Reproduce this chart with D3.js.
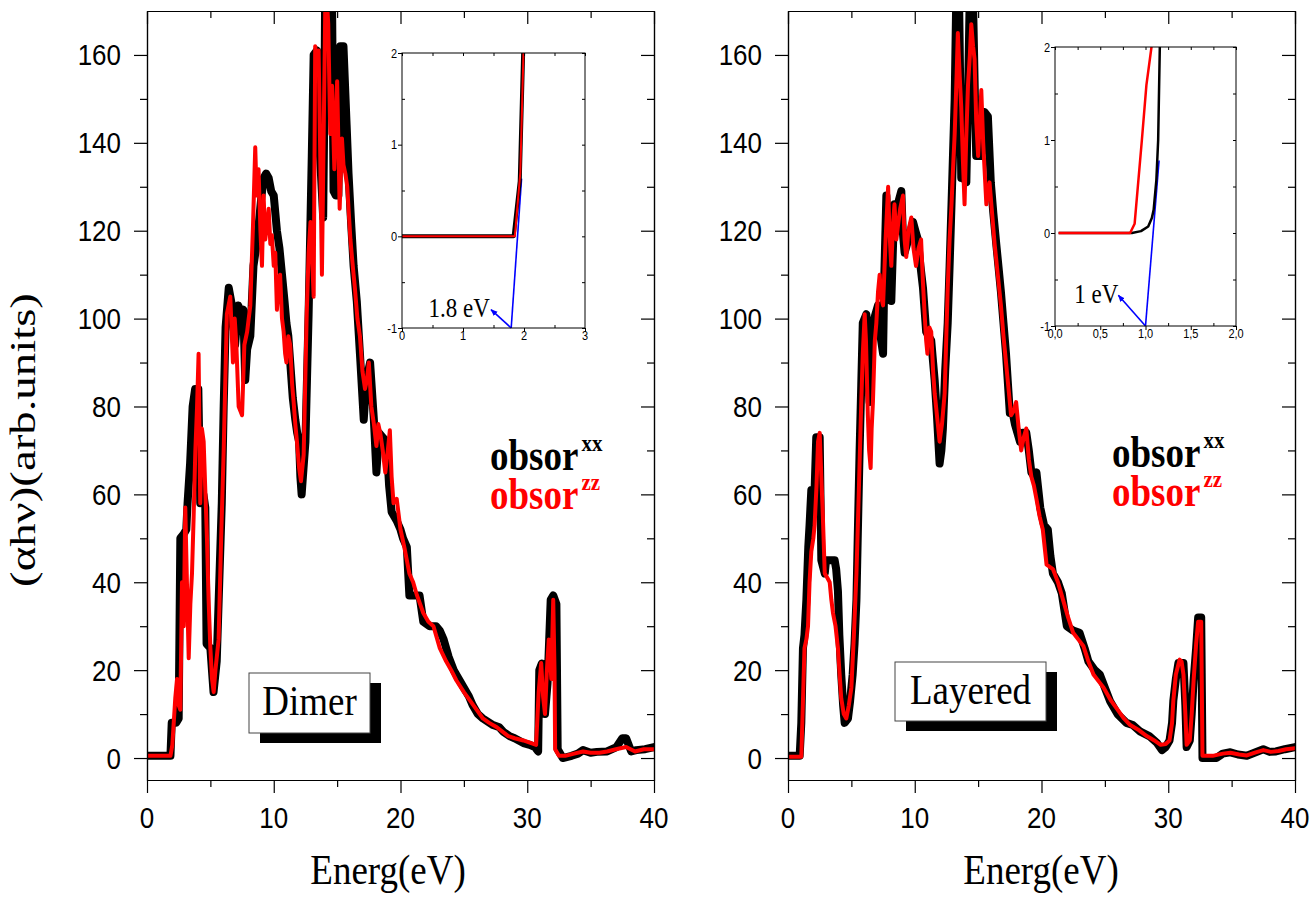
<!DOCTYPE html>
<html><head><meta charset="utf-8">
<script src="https://cdn.jsdelivr.net/npm/d3@7"></script>
<style>body{margin:0;background:#fff}svg{display:block}</style>
</head><body>
<svg id="c" width="1313" height="899"></svg>
<script>
// ---------------- DATA ----------------
const xTicksMajor = [0, 10, 20, 30, 40];
const xTicksMinor = [5, 15, 25, 35];
const yTicksMajor = [0, 20, 40, 60, 80, 100, 120, 140, 160];
const yTicksMinor = [10, 30, 50, 70, 90, 110, 130, 150];
const seriesNames = ["obsor", "obsor"];
const seriesSup = ["xx", "zz"];
const panelLabels = ["Dimer", "Layered"];
const xTitle = "Energ(eV)";
const yTitle = "(\u03b1h\u03bd)(arb.units)";

const dimerXX = [[0,0.5],[1.85,0.5],[1.95,8],[2.3,8],[2.5,9],[2.63,50],[2.9,51],[3.1,52],[3.2,58],[3.4,67],[3.6,80],[3.8,84],[4.05,84],[4.2,58],[4.45,60],[4.6,57],[4.7,26],[5.0,25],[5.25,15],[5.5,22],[5.7,40],[5.9,58],[6.05,80],[6.2,98],[6.45,107],[6.7,103],[6.95,94],[7.2,103],[7.4,101],[7.6,102],[7.75,86],[7.9,93],[8.15,96],[8.4,112],[8.6,116],[8.8,121],[9.0,127],[9.2,132],[9.4,133],[9.6,132],[9.8,129],[10.0,128],[10.25,120],[10.45,116],[10.65,110],[10.85,104],[11.0,99],[11.15,96],[11.3,90],[11.5,82],[11.7,77],[11.85,74],[12.0,72],[12.1,64],[12.2,60],[12.35,66],[12.5,72],[12.75,101],[13.0,137],[13.15,160],[13.4,161],[13.55,145],[13.65,137],[13.9,123],[14.0,150],[14.05,172],[14.6,172],[14.72,129],[14.9,128],[15.1,128],[15.25,162],[15.5,162],[15.75,144],[15.9,133],[16.1,122],[16.3,112],[16.55,104],[16.8,92],[17.1,77],[17.3,86],[17.6,90],[17.9,77],[18.1,65],[18.3,74],[18.6,73],[18.9,72],[19.1,62],[19.3,56],[19.7,54],[20.0,52],[20.2,50],[20.5,48],[20.7,37],[21.5,37],[21.8,31],[22.3,30],[22.8,30],[23.1,29],[23.4,27],[23.8,23],[24.2,20],[24.6,18],[25.0,16],[25.4,14],[25.7,12],[26.1,10],[26.5,9],[27.3,7.5],[27.8,7],[28.1,6],[28.6,5],[29.0,4.5],[29.7,3.4],[30.2,3],[30.6,2.5],[30.86,1.5],[30.95,20],[31.15,21.5],[31.3,14],[31.4,10],[31.6,17],[31.85,36],[32.05,37],[32.3,35],[32.4,2],[32.8,0],[33.5,0.5],[34.0,1],[34.4,1.8],[35.0,1.2],[35.5,1.4],[36.3,1.5],[37.04,2.5],[37.5,4.5],[37.8,4.5],[38.2,1.5],[38.6,1.8],[39.3,2],[40,2.5]];

const dimerZZ = [[0,0.5],[1.85,0.5],[2.0,3],[2.23,13.6],[2.37,18],[2.5,12],[2.63,11],[2.76,40],[2.9,30],[3.02,57],[3.15,40],[3.29,22.7],[3.42,35],[3.55,42],[3.68,55],[3.81,69.6],[3.95,80],[4.07,92],[4.2,58],[4.33,75],[4.47,72],[4.6,61],[4.73,50],[4.86,36],[5.0,25],[5.13,18],[5.26,15],[5.4,20],[5.65,27],[5.85,50],[6.05,70],[6.3,101],[6.57,105],[6.78,90],[6.92,100],[7.05,94],[7.23,80],[7.5,78],[7.68,94],[7.9,97],[8.15,103],[8.36,121],[8.54,139],[8.65,128],[8.8,134],[8.95,120],[9.07,112],[9.2,128],[9.33,118],[9.46,121],[9.6,125],[9.73,117],[9.85,119],[10.0,112],[10.12,115],[10.25,102],[10.38,108],[10.5,110],[10.65,100],[10.78,97],[10.9,92],[11.0,90],[11.15,96],[11.3,94],[11.45,85],[11.57,81],[11.7,76],[11.83,72],[12.0,66],[12.15,63],[12.36,69],[12.6,101],[12.75,115],[12.9,122],[13.05,112],[13.15,105],[13.27,162],[13.4,158],[13.54,161],[13.67,137],[13.8,110],[13.93,140],[14.07,172],[14.2,172],[14.3,167],[14.46,142],[14.6,153],[14.78,134],[14.9,145],[15.0,154],[15.1,140],[15.2,125],[15.38,141],[15.5,135],[15.65,133],[15.8,130],[15.9,125],[16.05,118],[16.17,114],[16.3,110],[16.4,107],[16.6,100],[16.8,96],[17.0,88],[17.2,84],[17.35,86],[17.5,90],[17.7,80],[17.9,76],[18.1,71],[18.25,76],[18.4,74],[18.6,70],[18.8,65],[19.0,70],[19.16,74.6],[19.3,64],[19.45,58],[19.7,59],[20.0,52],[20.3,48],[20.7,42],[21.0,40],[21.3,37],[21.8,33],[22.2,31],[22.6,30],[23.1,25],[23.6,22],[24.0,20],[24.4,17.7],[25.0,15],[25.5,13],[26.0,11],[26.5,9],[27.0,8],[27.6,7],[28.5,5],[29.0,4.5],[29.7,4],[30.2,3.5],[30.7,3],[30.9,15],[31.1,21.6],[31.25,14],[31.4,10],[31.55,20],[31.7,27],[31.9,18],[32.05,36],[32.15,20],[32.2,2],[32.5,0.5],[33.0,0.5],[33.7,1],[34.4,1.5],[35.0,1.2],[35.7,1.2],[36.3,1.5],[37.0,2],[37.8,2.5],[38.5,1.5],[39.2,2],[40,2]];

const layeredXX = [[0,0.5],[0.92,0.5],[1.05,8],[1.18,25],[1.3,28],[1.45,36],[1.6,48],[1.7,53],[1.84,61],[2.1,61],[2.23,73],[2.5,73],[2.63,45],[2.9,42],[3.0,45],[3.68,45],[3.8,43],[3.94,38],[4.05,28],[4.2,19],[4.35,12],[4.47,8],[4.73,9],[4.9,13],[5.1,19],[5.25,26],[5.4,36],[5.5,50],[5.65,70],[5.78,85],[5.9,99],[6.18,101],[6.3,90],[6.44,81],[6.55,90],[6.7,99],[6.9,101],[7.1,103],[7.3,96],[7.5,92],[7.6,110],[7.76,128],[7.95,115],[8.15,104],[8.3,118],[8.4,126],[8.6,124],[8.75,127],[8.94,129],[9.05,120],[9.2,115],[9.5,118],[9.86,122],[10.05,120],[10.25,118],[10.45,112],[10.65,107],[10.9,97],[11.1,96],[11.3,95],[11.45,90],[11.57,86],[11.75,78],[11.96,67],[12.1,70],[12.22,75],[12.4,88],[12.6,99],[12.75,112],[12.9,126],[13.15,150],[13.27,172],[13.5,172],[13.6,150],[13.67,132],[13.85,132],[14.07,131],[14.2,150],[14.33,172],[14.6,172],[14.75,150],[14.85,137],[15.25,137],[15.5,147],[15.77,146],[16.0,131],[16.2,124],[16.43,117],[16.6,112],[16.8,106],[17.0,99],[17.2,92],[17.5,78.5],[17.7,79],[17.9,76],[18.1,74],[18.3,72],[18.5,74],[18.8,74],[19.0,70],[19.2,65],[19.45,64],[19.6,65],[19.9,57],[20.2,53],[20.5,52],[20.7,46],[20.9,42],[21.3,40],[21.6,37.5],[22.0,30],[22.5,29],[23.0,28.5],[23.4,25],[23.7,22],[24.2,20],[24.6,19],[25.0,16],[25.4,13],[26.0,10],[26.7,8],[27.2,7.5],[27.8,6],[28.5,5],[29.1,3.5],[29.5,1.8],[29.8,2.5],[30.1,4],[30.3,8],[30.4,13],[30.6,18],[30.8,21.6],[31.2,21.6],[31.35,12],[31.45,2.5],[31.7,4],[31.85,10],[32.0,17.6],[32.2,25],[32.36,32],[32.6,32],[32.7,0],[33.8,0],[34.3,1],[34.9,1.3],[35.5,0.8],[36.2,0.5],[36.8,1.2],[37.5,2],[38.0,1.4],[38.5,1.5],[39.2,2],[40,2.5]];

const layeredZZ = [[0,0.3],[1.05,0.3],[1.15,10],[1.3,25],[1.45,27],[1.58,30],[1.7,40],[1.84,47],[2.0,50],[2.1,53],[2.25,62],[2.37,72],[2.5,74],[2.63,64],[2.75,55],[2.9,42],[3.1,41],[3.29,40],[3.42,36],[3.55,33],[3.75,30],[3.94,25],[4.05,20],[4.2,13.6],[4.4,10],[4.6,9],[4.8,12],[5.0,16],[5.2,28],[5.4,42],[5.6,62],[5.78,81],[5.9,92],[6.05,101],[6.15,95],[6.3,78],[6.4,70],[6.52,66],[6.6,75],[6.7,81],[6.85,95],[6.97,99],[7.1,106],[7.23,110],[7.35,105],[7.5,103],[7.7,118],[7.9,130],[8.0,120],[8.15,112],[8.3,122],[8.4,126],[8.55,118],[8.67,121],[8.85,125],[9.07,128],[9.2,118],[9.33,114],[9.5,120],[9.73,123],[9.9,116],[10.1,112],[10.3,116],[10.5,118],[10.65,108],[10.78,101],[10.9,95],[11.0,92],[11.15,98],[11.3,97],[11.45,88],[11.57,83],[11.75,78],[11.96,72],[12.15,76],[12.36,83],[12.6,107],[12.75,118],[12.9,126],[13.05,136],[13.15,142],[13.3,155],[13.4,165],[13.55,155],[13.67,148],[13.8,136],[13.93,126],[14.05,140],[14.2,153],[14.35,160],[14.46,167],[14.6,162],[14.72,159],[14.85,145],[15.0,137],[15.12,144],[15.25,152],[15.4,140],[15.65,126],[15.9,131],[16.1,124],[16.3,117],[16.55,110],[16.8,103],[17.0,96],[17.2,90],[17.4,84],[17.6,78],[17.8,79],[18.0,81],[18.2,75],[18.4,70],[18.6,73],[18.8,75],[19.0,68],[19.2,64],[19.4,62],[19.6,59],[19.85,55],[20.1,52],[20.4,44],[20.9,43],[21.3,40],[21.7,36],[22.1,32],[22.5,28.5],[22.9,27],[23.3,25.5],[23.7,22],[24.1,19],[24.5,17.5],[24.9,16],[25.5,13],[26.0,11],[26.5,9],[27.0,7.5],[27.6,6.5],[28.3,5],[28.9,4],[29.4,3],[29.8,3.2],[30.1,4],[30.3,8],[30.4,13],[30.6,19],[30.9,22.4],[31.05,22],[31.2,19],[31.35,10],[31.45,3],[31.7,4],[31.85,10],[32.0,17.6],[32.2,26],[32.36,31],[32.6,31],[32.7,0.5],[33.5,0.5],[34.3,1],[34.9,1.2],[35.6,0.8],[36.2,0.6],[36.9,1.3],[37.5,1.8],[38.1,1.4],[38.7,1.6],[39.3,2],[40,2.2]];

// insets
const insetDimerXX = [[0,0],[1.83,0],[1.93,0.6],[1.99,2.1]];
const insetDimerZZ = [[0,0],[1.85,0],[1.94,0.7],[1.995,2.1]];
const insetDimerFit = [[1.79,-1],[1.96,0.63]];
const insetDimerArrow = [[1.79,-1],[1.46,-0.8]];
const insetDimerGap = "1.8 eV";
const insetLayeredXX = [[0.04,0],[0.85,0],[0.95,0.02],[1.03,0.07],[1.07,0.16],[1.09,0.25],[1.12,0.57],[1.14,1.0],[1.16,2.1]];
const insetLayeredZZ = [[0.04,0],[0.83,0],[0.88,0.1],[0.96,1.0],[1.01,1.59],[1.08,2.1]];
const insetLayeredFit = [[1.0,-1],[1.15,0.78]];
const insetLayeredArrow = [[1.0,-1],[0.7,-0.67]];
const insetLayeredGap = "1 eV";
const insetDimerXTicks = [0,1,2,3];
const insetDimerXMinor = [0.5,1.5,2.5];
const insetLayeredXTicks = [0,0.5,1.0,1.5,2.0];
const insetLayeredXMinor = [0.25,0.75,1.25,1.75];
const insetYTicks = [-1,0,1,2];
const insetYMinor = [-0.5,0.5,1.5];

// ---------------- DRAW ----------------
const svg = d3.select("#c");
svg.append("rect").attr("width",1313).attr("height",899).attr("fill","#fff");
const SY = 1.2; // vertical stretch of the original figure's glyphs
const SERIF = "'Liberation Serif','Times New Roman',serif";
const SANS = "'Liberation Sans',Arial,sans-serif";

function txt(g, x, y, s, o) {
  o = o || {};
  const sx = o.sx || 1, sy = o.sy || SY;
  const t = g.append("text")
    .attr("transform", `translate(${x},${y})` + (o.rot ? ` rotate(${o.rot})` : "") + ` scale(${sx},${sy})`)
    .attr("font-family", o.family || SANS)
    .attr("font-size", o.size || 26)
    .attr("font-weight", o.weight || "normal")
    .attr("text-anchor", o.anchor || "start")
    .attr("fill", o.fill || "#000")
    .text(s);
  if (o.dy) t.attr("dy", o.dy);
  return t;
}

const defs = svg.append("defs");
defs.append("marker").attr("id","arr").attr("viewBox","0 0 10 10")
  .attr("refX",9).attr("refY",5).attr("markerWidth",7).attr("markerHeight",7)
  .attr("markerUnits","userSpaceOnUse").attr("orient","auto")
  .append("path").attr("d","M0,1 L10,5 L0,9 z").attr("fill","#0000ff");

const panels = [
  {x0:147, x1:654, xx:dimerXX, zz:dimerZZ, label:panelLabels[0], box:[249,673,121,60],
   legX:490, legY:470, xTitleX:388, yLabX:121,
   inset:{r:[402,585,53,328], xd:[0,3], xt:insetDimerXTicks, xm:insetDimerXMinor,
          fmt:d=>String(d), xx:insetDimerXX, zz:insetDimerZZ, fit:insetDimerFit,
          arrow:insetDimerArrow, gap:insetDimerGap, gapPos:[1.44,-0.88], bw:4, rw:2}},
  {x0:788, x1:1295, xx:layeredXX, zz:layeredZZ, label:panelLabels[1], box:[895,662,151,59],
   legX:1112, legY:467, xTitleX:1041, yLabX:762,
   inset:{r:[1055,1236,47,326], xd:[0,2], xt:insetLayeredXTicks, xm:insetLayeredXMinor,
          fmt:d=>d3.format(".1f")(d).replace(".",","), xx:insetLayeredXX, zz:insetLayeredZZ, fit:insetLayeredFit,
          arrow:insetLayeredArrow, gap:insetLayeredGap, gapPos:[0.70,-0.75], bw:2.5, rw:2.5}}
];

const yTop = 11, yBot = 780;

panels.forEach((p, i) => {
  const g = svg.append("g");
  const x = d3.scaleLinear().domain([0,40]).range([p.x0,p.x1]);
  const y = d3.scaleLinear().domain([-5,170]).range([yBot,yTop]);

  const cid = "clip"+i;
  defs.append("clipPath").attr("id",cid).append("rect")
    .attr("x",p.x0).attr("y",yTop).attr("width",p.x1-p.x0).attr("height",yBot-yTop);

  const line = d3.line().x(d=>x(d[0])).y(d=>y(d[1]));
  const cg = g.append("g").attr("clip-path",`url(#${cid})`);
  cg.append("path").datum(p.xx).attr("d",line).attr("fill","none")
    .attr("stroke","#000").attr("stroke-width",8).attr("stroke-linejoin","round").attr("stroke-linecap","round");
  cg.append("path").datum(p.zz).attr("d",line).attr("fill","none")
    .attr("stroke","#ff0000").attr("stroke-width",4).attr("stroke-linejoin","round").attr("stroke-linecap","round");

  // axes (ticks only)
  const ax = (a) => a.tickFormat("").tickSizeOuter(0);
  const st = sel => sel.call(s=>{s.selectAll("path,line").attr("stroke","#000").attr("stroke-width",1.2);});
  g.append("g").attr("transform",`translate(0,${yBot})`).call(ax(d3.axisBottom(x).tickValues(xTicksMajor).tickSize(13))).call(st);
  g.append("g").attr("transform",`translate(0,${yBot})`).call(ax(d3.axisBottom(x).tickValues(xTicksMinor).tickSize(7))).call(st);
  g.append("g").attr("transform",`translate(0,${yTop})`).call(ax(d3.axisTop(x).tickValues(xTicksMajor).tickSize(-13))).call(st);
  g.append("g").attr("transform",`translate(0,${yTop})`).call(ax(d3.axisTop(x).tickValues(xTicksMinor).tickSize(-7))).call(st);
  g.append("g").attr("transform",`translate(${p.x0},0)`).call(ax(d3.axisLeft(y).tickValues(yTicksMajor).tickSize(13))).call(st);
  g.append("g").attr("transform",`translate(${p.x0},0)`).call(ax(d3.axisLeft(y).tickValues(yTicksMinor).tickSize(7))).call(st);
  g.append("g").attr("transform",`translate(${p.x1},0)`).call(ax(d3.axisRight(y).tickValues(yTicksMajor).tickSize(-13))).call(st);
  g.append("g").attr("transform",`translate(${p.x1},0)`).call(ax(d3.axisRight(y).tickValues(yTicksMinor).tickSize(-7))).call(st);

  // tick labels
  xTicksMajor.forEach(v => txt(g, x(v), 828, String(v), {size:26, anchor:"middle", sy:1.15}));
  yTicksMajor.forEach(v => txt(g, p.yLabX, y(v), String(v), {size:26, anchor:"end", dy:"0.35em", sy:1.15}));

  // x title
  txt(g, p.xTitleX, 884, xTitle, {size:37, family:SERIF, anchor:"middle", sy:1.15});

  // legend
  const lg = g.append("g");
  const t1 = txt(lg, p.legX, p.legY, seriesNames[0], {size:37, family:SERIF, weight:"bold"});
  const w1 = t1.node().getComputedTextLength();
  txt(lg, p.legX + w1 + 3, p.legY - 19, seriesSup[0], {size:21, family:SERIF, weight:"bold", sy:1.1});
  const t2 = txt(lg, p.legX, p.legY + 39, seriesNames[1], {size:37, family:SERIF, weight:"bold", fill:"#ff0000"});
  const w2 = t2.node().getComputedTextLength();
  txt(lg, p.legX + w2 + 3, p.legY + 39 - 19, seriesSup[1], {size:21, family:SERIF, weight:"bold", fill:"#ff0000", sy:1.1});

  // label box with shadow
  const [bx,by,bw,bh] = p.box;
  g.append("rect").attr("x",bx+11).attr("y",by+10).attr("width",bw).attr("height",bh).attr("fill","#000");
  g.append("rect").attr("x",bx).attr("y",by).attr("width",bw).attr("height",bh).attr("fill","#fff")
    .attr("stroke","#444").attr("stroke-width",1);
  txt(g, bx+bw/2, by+bh/2+12, p.label, {size:37, family:SERIF, anchor:"middle", sy:1.15});

  // inset
  const I = p.inset;
  const [ix0,ix1,iy0,iy1] = I.r;
  const xi = d3.scaleLinear().domain(I.xd).range([ix0,ix1]);
  const yi = d3.scaleLinear().domain([-1,2]).range([iy1,iy0]);
  const ig = g.append("g");
  ig.append("rect").attr("x",ix0).attr("y",iy0).attr("width",ix1-ix0).attr("height",iy1-iy0).attr("fill","#fff");
  const icid = "iclip"+i;
  defs.append("clipPath").attr("id",icid).append("rect")
    .attr("x",ix0).attr("y",iy0).attr("width",ix1-ix0).attr("height",iy1-iy0);
  const il = d3.line().x(d=>xi(d[0])).y(d=>yi(d[1]));
  const icg = ig.append("g").attr("clip-path",`url(#${icid})`);
  icg.append("path").datum(I.fit).attr("d",il).attr("fill","none").attr("stroke","#0000ff").attr("stroke-width",1.6);
  icg.append("path").datum(I.xx).attr("d",il).attr("fill","none").attr("stroke","#000").attr("stroke-width",I.bw).attr("stroke-linejoin","round");
  icg.append("path").datum(I.zz).attr("d",il).attr("fill","none").attr("stroke","#ff0000").attr("stroke-width",I.rw).attr("stroke-linejoin","round");
  ig.append("path").datum(I.arrow).attr("d",il).attr("fill","none").attr("stroke","#0000ff").attr("stroke-width",1.6).attr("marker-end","url(#arr)");
  txt(ig, xi(I.gapPos[0]), yi(I.gapPos[1]), I.gap, {size:23, family:SERIF, anchor:"end"});
  ig.append("rect").attr("x",ix0).attr("y",iy0).attr("width",ix1-ix0).attr("height",iy1-iy0)
    .attr("fill","none").attr("stroke","#000").attr("stroke-width",1);
  const ist = sel => sel.call(s=>{s.select(".domain").remove(); s.selectAll("line").attr("stroke","#000").attr("stroke-width",1);});
  const iax = a => a.tickFormat("").tickSizeOuter(0);
  ig.append("g").attr("transform",`translate(0,${iy1})`).call(iax(d3.axisBottom(xi).tickValues(I.xt).tickSize(4))).call(ist);
  ig.append("g").attr("transform",`translate(0,${iy1})`).call(iax(d3.axisBottom(xi).tickValues(I.xm).tickSize(-3))).call(ist);
  ig.append("g").attr("transform",`translate(0,${iy0})`).call(iax(d3.axisTop(xi).tickValues(I.xt.concat(I.xm)).tickSize(-3))).call(ist);
  ig.append("g").attr("transform",`translate(${ix0},0)`).call(iax(d3.axisLeft(yi).tickValues(insetYTicks).tickSize(4))).call(ist);
  ig.append("g").attr("transform",`translate(${ix0},0)`).call(iax(d3.axisLeft(yi).tickValues(insetYMinor).tickSize(-3))).call(ist);
  ig.append("g").attr("transform",`translate(${ix1},0)`).call(iax(d3.axisRight(yi).tickValues(insetYTicks.concat(insetYMinor)).tickSize(-3))).call(ist);
  I.xt.forEach(v => txt(ig, xi(v), iy1+12, I.fmt(v), {size:11, anchor:"middle"}));
  insetYTicks.forEach(v => txt(ig, ix0-5, yi(v), String(v), {size:11, anchor:"end", dy:"0.35em"}));
});

// y title
txt(svg, 35, 440, yTitle, {size:36, family:SERIF, anchor:"middle", rot:-90, sx:1.3, sy:1});
</script>
</body></html>
